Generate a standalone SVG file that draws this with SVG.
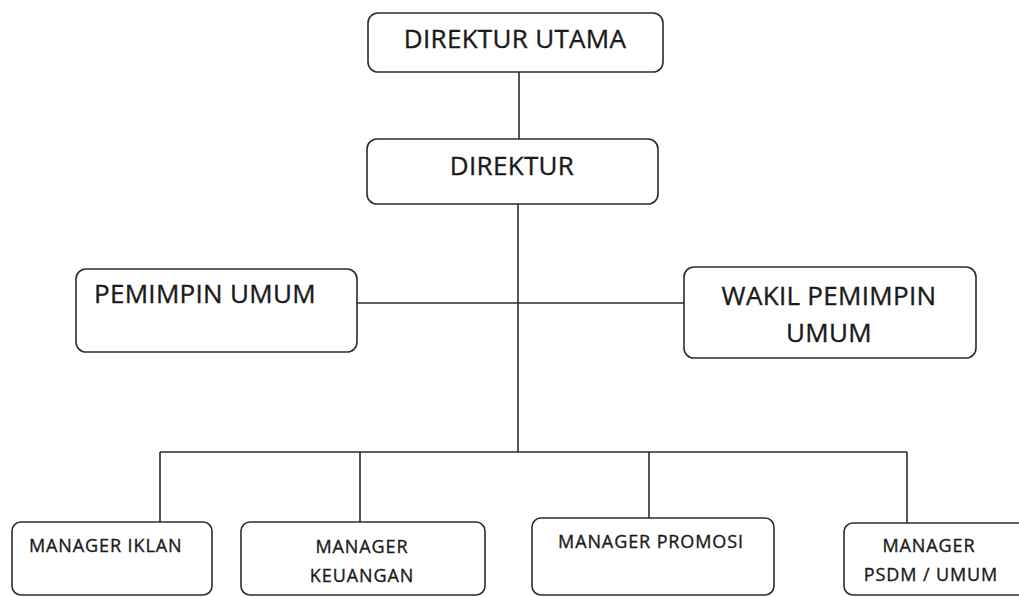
<svg xmlns="http://www.w3.org/2000/svg" width="1019" height="597" viewBox="0 0 1019 597">
<style>
.box{fill:#fff;stroke:#2b2b2b;stroke-width:1.6}
.ln{stroke:#2b2b2b;stroke-width:1.6;fill:none}
.t{font-family:"Open Sans","Liberation Sans",sans-serif;fill:#1a1a1a;stroke:#1a1a1a;stroke-width:0.35}
.L{font-size:26px;letter-spacing:0.3px}
.S{font-size:18px;letter-spacing:0.9px}
</style>
<rect width="1019" height="597" fill="#fff"/>
<g id="connectors">
<line class="ln" x1="519" y1="72" x2="519" y2="139"/>
<line class="ln" x1="518" y1="204" x2="518" y2="452"/>
<line class="ln" x1="357" y1="303" x2="684" y2="303"/>
<line class="ln" x1="160" y1="452" x2="907" y2="452"/>
<line class="ln" x1="160" y1="452" x2="160" y2="522"/>
<line class="ln" x1="360" y1="452" x2="360" y2="522"/>
<line class="ln" x1="649" y1="452" x2="649" y2="518"/>
<line class="ln" x1="907" y1="452" x2="907" y2="523"/>
</g>
<g id="direktur-utama">
<rect class="box" x="368" y="13" width="295" height="59" rx="10"/>
<text class="t L" x="515" y="48" text-anchor="middle">DIREKTUR UTAMA</text>
</g>
<g id="direktur">
<rect class="box" x="367" y="139" width="291" height="65" rx="10"/>
<text class="t L" x="512" y="175" text-anchor="middle">DIREKTUR</text>
</g>
<g id="pemimpin-umum">
<rect class="box" x="76" y="269" width="281" height="83" rx="10"/>
<text class="t L" x="94" y="303">PEMIMPIN UMUM</text>
</g>
<g id="wakil-pemimpin-umum">
<rect class="box" x="684" y="267" width="292" height="91" rx="10"/>
<text class="t L" x="829" y="305" text-anchor="middle">WAKIL PEMIMPIN</text>
<text class="t L" x="829" y="342" text-anchor="middle">UMUM</text>
</g>
<g id="manager-iklan">
<rect class="box" x="12" y="522" width="200" height="73" rx="9"/>
<text class="t S" x="29" y="552">MANAGER IKLAN</text>
</g>
<g id="manager-keuangan">
<rect class="box" x="241" y="522" width="244" height="73" rx="9"/>
<text class="t S" x="362" y="553" text-anchor="middle">MANAGER</text>
<text class="t S" x="362" y="582" text-anchor="middle">KEUANGAN</text>
</g>
<g id="manager-promosi">
<rect class="box" x="532" y="518" width="242" height="77" rx="9"/>
<text class="t S" x="651" y="548" text-anchor="middle">MANAGER PROMOSI</text>
</g>
<g id="manager-psdm-umum">
<rect class="box" x="844" y="523" width="190" height="72" rx="9"/>
<text class="t S" x="929" y="552" text-anchor="middle">MANAGER</text>
<text class="t S" x="931" y="581" text-anchor="middle">PSDM / UMUM</text>
</g>
</svg>
